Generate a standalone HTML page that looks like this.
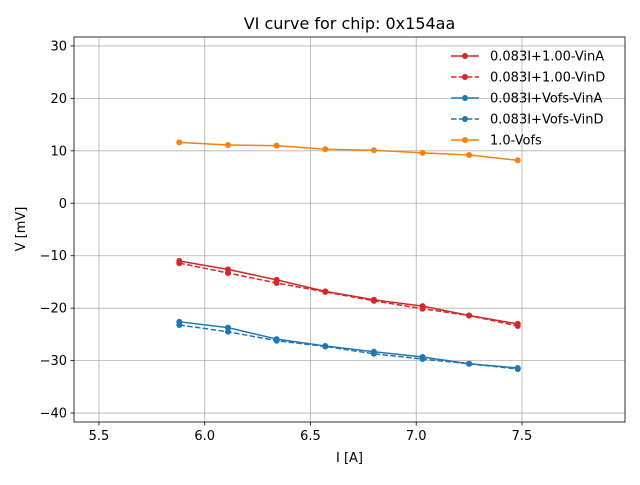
<!DOCTYPE html>
<html><head><meta charset="utf-8"><style>
body{margin:0;background:#fff;font-family:"Liberation Sans","DejaVu Sans",sans-serif}
svg text{font-family:"DejaVu Sans","Liberation Sans",sans-serif}
</style></head><body>
<svg id="chart" width="640" height="480"></svg>
<script>
const xs=[5.88,6.11,6.34,6.57,6.80,7.03,7.25,7.48];
const redA=[-11.0,-12.6,-14.6,-16.8,-18.4,-19.6,-21.4,-23.0];
const redD=[-11.4,-13.3,-15.2,-16.9,-18.6,-20.1,-21.4,-23.4];
const blueA=[-22.6,-23.7,-25.9,-27.2,-28.3,-29.3,-30.6,-31.4];
const blueD=[-23.2,-24.5,-26.2,-27.3,-28.7,-29.7,-30.6,-31.6];
const orange=[11.6,11.1,11.0,10.3,10.1,9.6,9.2,8.2];
const xTicks=[5.5,6.0,6.5,7.0,7.5];
const yTicks=[-40,-30,-20,-10,0,10,20,30];
const seriesNames=["0.083I+1.00-VinA","0.083I+1.00-VinD","0.083I+Vofs-VinA","0.083I+Vofs-VinD","1.0-Vofs"];

const NS="http://www.w3.org/2000/svg";
const svg=document.getElementById('chart');
const L=74,R=625,T=37,B=422;
const X0=5.382,X1=7.987,Y0=-41.7,Y1=31.7;
const sx=v=>L+(v-X0)/(X1-X0)*(R-L);
const sy=v=>B-(v-Y0)/(Y1-Y0)*(B-T);
function el(t,a,p){const e=document.createElementNS(NS,t);for(const k in a)e.setAttribute(k,a[k]);(p||svg).appendChild(e);return e;}
function txt(s,a,name){const e=el('text',a);e.textContent=s;return e;}

const grid=el('g',{});


xTicks.forEach(v=>{
  el('line',{x1:sx(v),x2:sx(v),y1:T,y2:B,stroke:'#b0b0b0','stroke-width':0.8},grid);
  el('line',{x1:sx(v),x2:sx(v),y1:B,y2:B+3.5,stroke:'#000','stroke-width':0.8});
  txt(v.toFixed(1),{x:sx(v),y:B+18,'font-size':13,'text-anchor':'middle'},'x-tick-label');
});
yTicks.forEach(v=>{
  el('line',{x1:L,x2:R,y1:sy(v),y2:sy(v),stroke:'#b0b0b0','stroke-width':0.8},grid);
  el('line',{x1:L-3.5,x2:L,y1:sy(v),y2:sy(v),stroke:'#000','stroke-width':0.8});
  txt(String(v).replace('-','−'),{x:L-7,y:sy(v)+4.5,'font-size':13,'text-anchor':'end'},'y-tick-label');
});

const series=[[redA,'#d62728',''],[redD,'#d62728','5.5,2.4'],[blueA,'#1f77b4',''],[blueD,'#1f77b4','5.5,2.4'],[orange,'#ff7f0e','']];
series.forEach((s,i)=>{
  const g=el('g',{});
  
  
  el('polyline',{points:xs.map((x,j)=>sx(x)+','+sy(s[0][j])).join(' '),fill:'none',stroke:s[1],'stroke-width':1.5,'stroke-dasharray':s[2]||'none'},g);
  xs.forEach((x,j)=>{
    const c=el('circle',{cx:sx(x),cy:sy(s[0][j]),r:3,fill:s[1]},g);
    
    
  });
});

const frame=el('rect',{x:L,y:T,width:R-L,height:B-T,fill:'none',stroke:'#000','stroke-width':0.8});



txt('VI curve for chip: 0x154aa',{x:(L+R)/2,y:29,'font-size':16,'text-anchor':'middle'},'chart-title');
txt('I [A]',{x:(L+R)/2,y:462,'font-size':13,'text-anchor':'middle'},'x-axis-title');
txt('V [mV]',{x:0,y:0,'font-size':13,'text-anchor':'middle',transform:'translate(25,229) rotate(-90)'},'y-axis-title');

const lg=el('g',{});


series.forEach((s,i)=>{
  const y=56+i*21;
  const e=el('g',{},lg);
  
  
  el('line',{x1:451,x2:479,y1:y,y2:y,stroke:s[1],'stroke-width':1.5,'stroke-dasharray':s[2]||'none'},e);
  el('circle',{cx:465,cy:y,r:3,fill:s[1]},e);
  const t=el('text',{x:490,y:y+4.5,'font-size':13},e);
  t.textContent=seriesNames[i];
});
</script>
</body></html>
